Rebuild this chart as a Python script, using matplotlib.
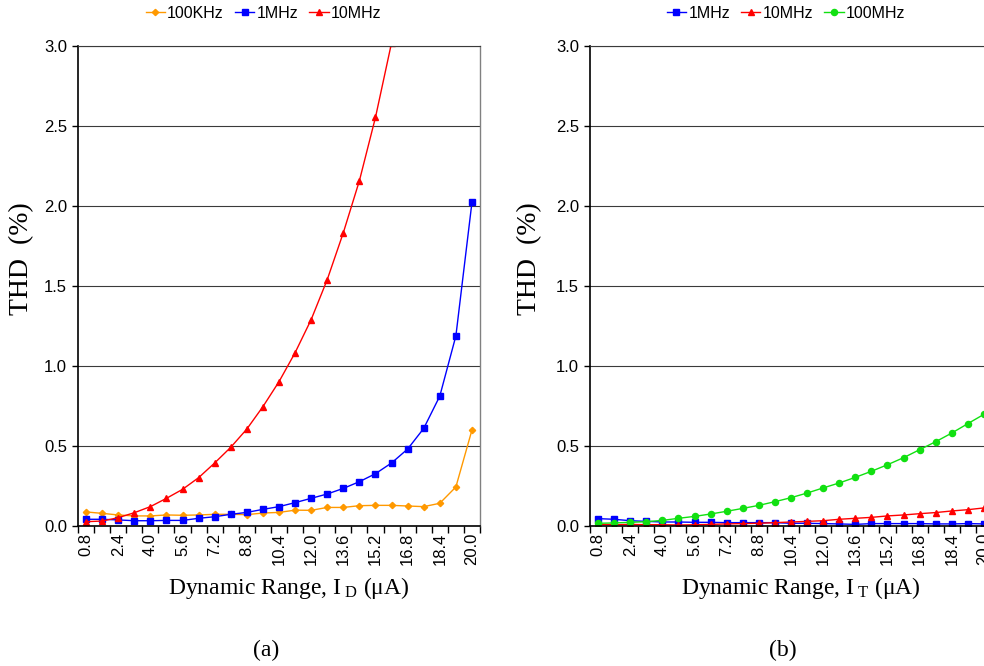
import numpy as np
import matplotlib
matplotlib.use("Agg")
import matplotlib.pyplot as plt
from matplotlib.ticker import FixedLocator, NullFormatter

plt.rcParams["font.family"] = ["Liberation Sans", "DejaVu Sans"]
plt.rcParams["mathtext.fontset"] = "custom"
plt.rcParams["mathtext.rm"] = "Liberation Serif"
plt.rcParams["mathtext.it"] = "Liberation Serif:italic"

# Input current steps (uA) on the category axis
current_labels = ["0.8", "1.6", "2.4", "3.2", "4.0", "4.8", "5.6", "6.4", "7.2",
                  "8.0", "8.8", "9.6", "10.4", "11.2", "12.0", "12.8", "13.6",
                  "14.4", "15.2", "16.0", "16.8", "17.6", "18.4", "19.2", "20.0"]

# (a) THD (%) versus I_D
thd_a_100khz = [0.088, 0.079, 0.069, 0.063, 0.063, 0.069, 0.067, 0.069, 0.073,
                0.073, 0.071, 0.081, 0.085, 0.099, 0.098, 0.116, 0.116, 0.127,
                0.129, 0.129, 0.125, 0.121, 0.142, 0.244, 0.600]
thd_a_1mhz = [0.042, 0.042, 0.038, 0.033, 0.033, 0.035, 0.035, 0.048, 0.058,
              0.073, 0.085, 0.104, 0.121, 0.146, 0.173, 0.200, 0.235, 0.277,
              0.327, 0.394, 0.481, 0.610, 0.812, 1.188, 2.023]
thd_a_10mhz = [0.027, 0.031, 0.052, 0.083, 0.121, 0.173, 0.229, 0.302, 0.394,
               0.492, 0.606, 0.746, 0.902, 1.083, 1.290, 1.540, 1.833, 2.158,
               2.554, 3.020]

# (b) THD (%) versus I_T
thd_b_1mhz = [0.046, 0.042, 0.033, 0.029, 0.025, 0.025, 0.023, 0.023, 0.021,
              0.021, 0.021, 0.021, 0.017, 0.017, 0.015, 0.013, 0.010, 0.015,
              0.015, 0.015, 0.015, 0.013, 0.013, 0.015, 0.013]
thd_b_10mhz = [0.010, 0.008, 0.010, 0.008, 0.008, 0.006, 0.008, 0.010, 0.013,
               0.015, 0.017, 0.021, 0.025, 0.029, 0.033, 0.042, 0.048, 0.054,
               0.063, 0.069, 0.077, 0.084, 0.094, 0.102, 0.113]
thd_b_100mhz = [0.017, 0.019, 0.023, 0.027, 0.035, 0.048, 0.060, 0.075, 0.092,
                0.110, 0.129, 0.152, 0.177, 0.206, 0.238, 0.269, 0.304, 0.342,
                0.383, 0.427, 0.477, 0.527, 0.581, 0.640, 0.698]

ORANGE = "#FF9900"
BLUE = "#0000FF"
RED = "#FF0000"
GREEN = "#11E011"

W, H = 984, 666
fig = plt.figure(figsize=(W / 100, H / 100), dpi=100)


def make_axes(x0):
    ax = fig.add_axes([x0 / W, 1 - 526 / H, 402 / W, 480 / H])
    n = len(current_labels)
    ax.set_xlim(-0.5, n - 0.5)
    ax.set_ylim(0, 3.0)
    ax.set_yticks(np.arange(0, 3.01, 0.5))
    ax.set_yticklabels([f"{v:.1f}" for v in np.arange(0, 3.01, 0.5)], fontsize=12)
    ax.xaxis.set_major_locator(FixedLocator(list(range(0, n, 2))))
    ax.set_xticklabels(current_labels[::2], rotation=90, fontsize=12)
    ax.xaxis.set_minor_locator(FixedLocator(list(np.arange(-0.5, n, 1.0))))
    ax.xaxis.set_minor_formatter(NullFormatter())
    ax.tick_params(axis="x", which="major", length=0, pad=5)
    ax.tick_params(axis="x", which="minor", length=5, width=1, color="black")
    ax.tick_params(axis="y", length=4, width=1, pad=4)
    ax.yaxis.grid(True, color="#3a3a3a", lw=0.8)
    ax.set_axisbelow(True)
    for s in ("left", "bottom"):
        ax.spines[s].set_color("black")
        ax.spines[s].set_linewidth(1.2)
    ax.spines["top"].set_color("#3a3a3a")
    ax.spines["top"].set_linewidth(0.8)
    ax.spines["right"].set_color("#808080")
    ax.spines["right"].set_linewidth(1.0)
    return ax


def draw(ax, values, color, marker, ms, label):
    x = np.arange(len(values))
    ax.plot(x, values, color=color, lw=1.0, marker=marker, ms=ms,
            mec=color, mfc=color, label=label, clip_on=True)


ax_a = make_axes(78)
draw(ax_a, thd_a_100khz, ORANGE, "D", 3.2, "100KHz")
draw(ax_a, thd_a_1mhz, BLUE, "s", 4.2, "1MHz")
draw(ax_a, thd_a_10mhz, RED, "^", 4.6, "10MHz")

ax_b = make_axes(590)
draw(ax_b, thd_b_1mhz, BLUE, "s", 4.2, "1MHz")
draw(ax_b, thd_b_10mhz, RED, "^", 4.6, "10MHz")
draw(ax_b, thd_b_100mhz, GREEN, "o", 4.4, "100MHz")

legend_kw = dict(loc="center", ncol=3, frameon=False, fontsize=11.5,
                 handlelength=1.2, handletextpad=0.15, columnspacing=0.7,
                 borderpad=0, borderaxespad=0, bbox_transform=fig.transFigure)
ax_a.legend(bbox_to_anchor=(263.5 / W, 1 - 13 / H), **legend_kw)
ax_b.legend(bbox_to_anchor=(786 / W, 1 - 13 / H), **legend_kw)

serif = ["Liberation Serif", "DejaVu Serif"]
for xc in (22, 530):
    fig.text(xc / W, 1 - 259 / H, "THD  (%)", rotation=90, ha="center",
             va="center", fontsize=20, family=serif)

fig.text(289 / W, 1 - 588 / H, r"Dynamic Range, I$_{\mathrm{\ D}}$ (μA)",
         ha="center", va="center", fontsize=17, family=serif)
fig.text(801 / W, 1 - 588 / H, r"Dynamic Range, I$_{\mathrm{\ T}}$ (μA)",
         ha="center", va="center", fontsize=17, family=serif)

fig.text(266 / W, 1 - 650 / H, "(a)", ha="center", va="center", fontsize=17,
         family=serif)
fig.text(783 / W, 1 - 650 / H, "(b)", ha="center", va="center", fontsize=17,
         family=serif)

fig.savefig("out.png", dpi=100)
